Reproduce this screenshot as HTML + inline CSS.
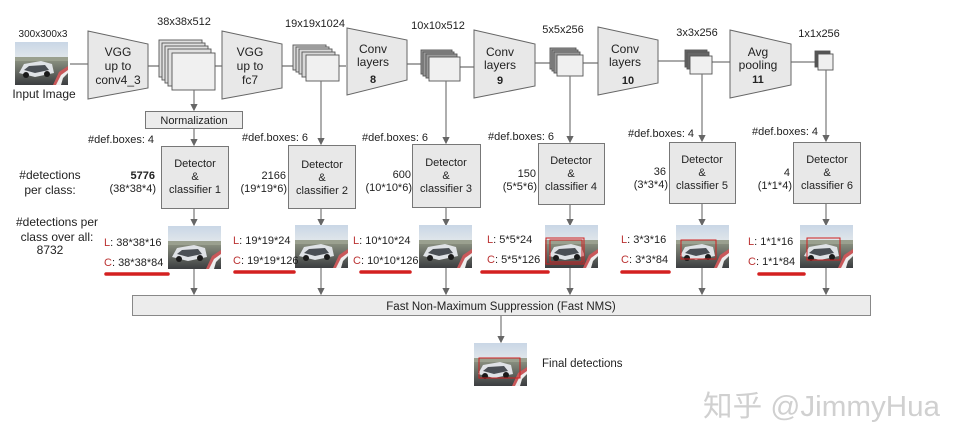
<!DOCTYPE html>
<html><head><meta charset="utf-8"><style>
html,body{margin:0;padding:0;background:#fff;}
svg{display:block;}
text{font-family:"Liberation Sans",Arial,sans-serif;fill:#222;}
</style></head><body>
<svg width="966" height="446" viewBox="0 0 966 446" xmlns="http://www.w3.org/2000/svg">
<defs>
<linearGradient id="sky" x1="0" y1="0" x2="0" y2="1">
<stop offset="0" stop-color="#c9d6e6"/><stop offset="0.35" stop-color="#dfe5ea"/><stop offset="0.42" stop-color="#8a9080"/><stop offset="1" stop-color="#3b3d40"/>
</linearGradient>
<g id="car">
<rect x="0" y="0" width="53" height="43" fill="url(#sky)"/>
<rect x="0" y="15" width="53" height="4" fill="#9aa08f"/>
<path d="M4 31 L9 22 L26 19 L37 22 L39 31 L20 35 Z" fill="#dfe2e6"/>
<path d="M9 28 L14 24 L30 23 L34 28 L20 31 Z" fill="#4a4f55"/>
<circle cx="11" cy="33" r="3" fill="#1a1a1a"/><circle cx="32" cy="32" r="3" fill="#1a1a1a"/>
<path d="M38 43 L44 30 L53 24 L53 30 L46 36 L44 43 Z" fill="#c9585a"/>
<path d="M41 43 L46 33 L53 28 L53 31 L48 36 L46 43 Z" fill="#eee"/>
</g>
<marker id="ah" markerWidth="6" markerHeight="6" refX="5" refY="3" orient="auto"><path d="M0,0 L6,3 L0,6 Z" fill="#666"/></marker>
</defs>

<g stroke="#777" stroke-width="1.3" fill="none">
<line x1="70" y1="64" x2="88" y2="64"/>
<line x1="148" y1="66" x2="160" y2="66"/>
<line x1="214" y1="66" x2="222" y2="66"/>
<line x1="282" y1="66" x2="296" y2="66"/>
<line x1="338" y1="66" x2="346" y2="66"/>
<line x1="406" y1="64" x2="422" y2="64"/>
<line x1="460" y1="67" x2="474" y2="67"/>
<line x1="535" y1="63" x2="551" y2="63"/>
<line x1="583" y1="63" x2="598" y2="63"/>
<line x1="658" y1="61" x2="686" y2="61"/>
<line x1="712" y1="62" x2="730" y2="62"/>
<line x1="791" y1="62" x2="816" y2="62"/>
</g>

<use href="#car" x="15" y="42"/>
<text x="43" y="37" font-size="10" text-anchor="middle">300x300x3</text>
<text x="44" y="98" font-size="12" text-anchor="middle">Input Image</text>

<g fill="#e8e8e8" stroke="#666" stroke-width="1">
<polygon points="88,31 148,44 148,88 88,99"/>
<polygon points="222,31 282,44 282,88 222,99"/>
<polygon points="347,28 407,40 407,80 347,95"/>
<polygon points="474,30 535,44 535,86 474,98"/>
<polygon points="598,27 658,40 658,83 598,95"/>
<polygon points="730,30 791,44 791,85 730,98"/>
</g>
<g font-size="12" text-anchor="middle">
<text x="118" y="56">VGG</text><text x="118" y="70">up to</text><text x="118" y="84">conv4_3</text>
<text x="250" y="56">VGG</text><text x="250" y="70">up to</text><text x="250" y="84">fc7</text>
<text x="373" y="53">Conv</text><text x="373" y="66">layers</text><text x="373" y="83" font-weight="bold" font-size="11">8</text>
<text x="500" y="56">Conv</text><text x="500" y="69">layers</text><text x="500" y="84" font-weight="bold" font-size="11">9</text>
<text x="625" y="53">Conv</text><text x="625" y="66">layers</text><text x="628" y="84" font-weight="bold" font-size="11">10</text>
<text x="758" y="56">Avg</text><text x="758" y="69">pooling</text><text x="758" y="83" font-weight="bold" font-size="11">11</text>
</g>

<g stroke="#555" stroke-width="0.9">
<g fill="#e0e0e0">
<rect x="159" y="40" width="43" height="37"/><rect x="162" y="43" width="43" height="37"/><rect x="165" y="46" width="43" height="37"/><rect x="168" y="49" width="43" height="37"/>
</g><rect x="172" y="53" width="43" height="37" fill="#f0f0f0"/>
<g fill="#d8d8d8">
<rect x="293" y="45" width="33" height="25"/><rect x="296" y="47" width="33" height="25"/><rect x="299" y="49" width="33" height="25"/><rect x="302" y="52" width="33" height="25"/>
</g><rect x="306" y="55" width="33" height="26" fill="#f0f0f0"/>
<g fill="#999">
<rect x="421" y="50" width="31" height="24"/><rect x="423" y="52" width="31" height="24"/><rect x="426" y="54" width="31" height="24"/>
</g><rect x="429" y="57" width="31" height="24" fill="#f0f0f0"/>
<g fill="#999">
<rect x="550" y="48" width="26" height="21"/><rect x="552" y="50" width="26" height="21"/><rect x="554" y="52" width="26" height="21"/>
</g><rect x="557" y="55" width="26" height="21" fill="#f0f0f0"/>
<g fill="#666">
<rect x="685" y="50" width="22" height="17"/><rect x="687" y="52" width="22" height="17"/>
</g><rect x="690" y="56" width="22" height="18" fill="#f0f0f0"/>
<rect x="815" y="51" width="15" height="16" fill="#555"/>
<rect x="818" y="54" width="15" height="16" fill="#f0f0f0"/>
</g>
<g font-size="11" text-anchor="middle">
<text x="184" y="25">38x38x512</text>
<text x="315" y="27">19x19x1024</text>
<text x="438" y="29">10x10x512</text>
<text x="563" y="33">5x5x256</text>
<text x="697" y="36">3x3x256</text>
<text x="819" y="37">1x1x256</text>
</g>

<g stroke="#777" stroke-width="1.2" marker-end="url(#ah)">
<line x1="194" y1="90" x2="194" y2="110"/>
<line x1="194" y1="128" x2="194" y2="145"/>
<line x1="321" y1="81" x2="321" y2="144"/>
<line x1="446" y1="81" x2="446" y2="143"/>
<line x1="570" y1="76" x2="570" y2="142"/>
<line x1="702" y1="74" x2="702" y2="141"/>
<line x1="826" y1="70" x2="826" y2="141"/>
<line x1="194" y1="208" x2="194" y2="225"/>
<line x1="321" y1="208" x2="321" y2="225"/>
<line x1="446" y1="207" x2="446" y2="225"/>
<line x1="570" y1="204" x2="570" y2="225"/>
<line x1="702" y1="203" x2="702" y2="225"/>
<line x1="826" y1="203" x2="826" y2="225"/>
<line x1="194" y1="268" x2="194" y2="294"/>
<line x1="321" y1="268" x2="321" y2="294"/>
<line x1="446" y1="268" x2="446" y2="294"/>
<line x1="570" y1="268" x2="570" y2="294"/>
<line x1="702" y1="268" x2="702" y2="294"/>
<line x1="826" y1="268" x2="826" y2="294"/>
<line x1="501" y1="315" x2="501" y2="342"/>
</g>

<rect x="145.5" y="111.5" width="97" height="17" fill="#ececec" stroke="#777"/>
<text x="194" y="124" font-size="11" text-anchor="middle">Normalization</text>

<g fill="#e8e8e8" stroke="#777">
<rect x="161.5" y="146.5" width="67" height="62"/>
<rect x="288.5" y="145.5" width="67" height="63"/>
<rect x="412.5" y="144.5" width="68" height="63"/>
<rect x="538.5" y="143.5" width="66" height="61"/>
<rect x="669.5" y="142.5" width="66" height="61"/>
<rect x="793.5" y="142.5" width="67" height="61"/>
</g>
<g font-size="11" text-anchor="middle">
<text x="195" y="167">Detector</text><text x="195" y="180">&amp;</text><text x="195" y="193">classifier 1</text>
<text x="322" y="168">Detector</text><text x="322" y="181">&amp;</text><text x="322" y="194">classifier 2</text>
<text x="446" y="166">Detector</text><text x="446" y="179">&amp;</text><text x="446" y="192">classifier 3</text>
<text x="571" y="164">Detector</text><text x="571" y="177">&amp;</text><text x="571" y="190">classifier 4</text>
<text x="702" y="163">Detector</text><text x="702" y="176">&amp;</text><text x="702" y="189">classifier 5</text>
<text x="827" y="163">Detector</text><text x="827" y="176">&amp;</text><text x="827" y="189">classifier 6</text>
</g>
<g font-size="11">
<text x="88" y="143">#def.boxes: 4</text>
<text x="242" y="141">#def.boxes: 6</text>
<text x="362" y="141">#def.boxes: 6</text>
<text x="488" y="140">#def.boxes: 6</text>
<text x="628" y="137">#def.boxes: 4</text>
<text x="752" y="135">#def.boxes: 4</text>
</g>
<g font-size="11" text-anchor="end">
<text x="155" y="179" font-weight="bold">5776</text><text x="156" y="192">(38*38*4)</text>
<text x="286" y="179">2166</text><text x="287" y="192">(19*19*6)</text>
<text x="411" y="178">600</text><text x="412" y="191">(10*10*6)</text>
<text x="536" y="177">150</text><text x="537" y="190">(5*5*6)</text>
<text x="666" y="175">36</text><text x="668" y="188">(3*3*4)</text>
<text x="790" y="176">4</text><text x="792" y="189">(1*1*4)</text>
</g>
<g font-size="12" text-anchor="middle">
<text x="50" y="179">#detections</text><text x="50" y="194">per class:</text>
<text x="57" y="226">#detections per</text><text x="57" y="241">class over all:</text><text x="50" y="254">8732</text>
</g>

<use href="#car" x="168" y="226"/>
<use href="#car" x="295" y="225"/>
<use href="#car" x="419" y="225"/>
<use href="#car" x="545" y="225"/>
<use href="#car" x="676" y="225"/>
<use href="#car" x="800" y="225"/>
<g fill="none" stroke="#d02020" stroke-width="1">
<rect x="550" y="240" width="32" height="22"/><rect x="546" y="238" width="38" height="26"/>
<rect x="681" y="240" width="35" height="19"/>
<rect x="807" y="238" width="33" height="22"/>
</g>

<g font-size="11">
<text x="104" y="246"><tspan fill="#b33">L</tspan>: 38*38*16</text>
<text x="104" y="266"><tspan fill="#b33">C</tspan>: 38*38*84</text>
<text x="233" y="244"><tspan fill="#b33">L</tspan>: 19*19*24</text>
<text x="233" y="264"><tspan fill="#b33">C</tspan>: 19*19*126</text>
<text x="353" y="244"><tspan fill="#b33">L</tspan>: 10*10*24</text>
<text x="353" y="264"><tspan fill="#b33">C</tspan>: 10*10*126</text>
<text x="487" y="243"><tspan fill="#b33">L</tspan>: 5*5*24</text>
<text x="487" y="263"><tspan fill="#b33">C</tspan>: 5*5*126</text>
<text x="621" y="243"><tspan fill="#b33">L</tspan>: 3*3*16</text>
<text x="621" y="263"><tspan fill="#b33">C</tspan>: 3*3*84</text>
<text x="748" y="245"><tspan fill="#b33">L</tspan>: 1*1*16</text>
<text x="748" y="265"><tspan fill="#b33">C</tspan>: 1*1*84</text>
</g>
<g stroke="#d42020" stroke-width="3.5" stroke-linecap="round">
<line x1="106" y1="274" x2="168" y2="274"/>
<line x1="235" y1="272" x2="294" y2="272"/>
<line x1="361" y1="272" x2="410" y2="272"/>
<line x1="482" y1="272" x2="548" y2="272"/>
<line x1="622" y1="272" x2="669" y2="272"/>
<line x1="759" y1="274" x2="804" y2="274"/>
</g>

<rect x="132.5" y="295.5" width="738" height="20" fill="#ececec" stroke="#888"/>
<text x="501" y="310" font-size="11.5" text-anchor="middle">Fast Non-Maximum Suppression (Fast NMS)</text>

<use href="#car" x="474" y="343"/>
<rect x="479" y="358" width="41" height="20" fill="none" stroke="#d02020"/>
<text x="542" y="367" font-size="11.5">Final detections</text>

<text x="703" y="416" font-size="29" textLength="237" lengthAdjust="spacingAndGlyphs" style="fill:#d0d0d0" font-family="Liberation Sans, Noto Sans CJK SC, sans-serif">知乎 @JimmyHua</text>
</svg>
</body></html>
